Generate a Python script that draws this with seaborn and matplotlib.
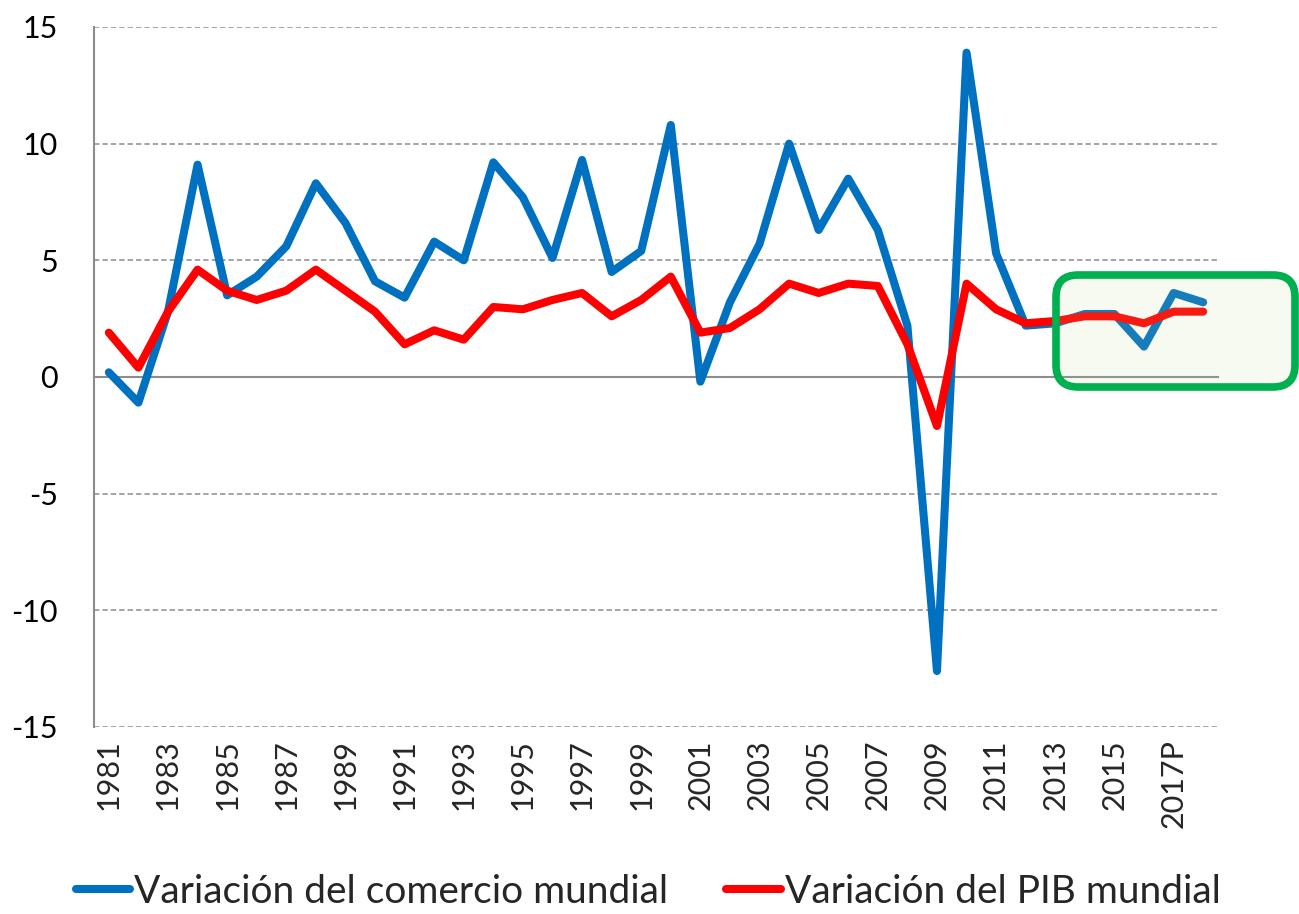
import numpy as np
import pandas as pd
import matplotlib
matplotlib.use("Agg")
import matplotlib.pyplot as plt
from matplotlib.patches import FancyBboxPatch
from matplotlib.lines import Line2D
import seaborn as sns

# --- Data ---
YEARS = [str(y) for y in range(1981, 2017)] + ["2017P", "2018P"]

TRADE = [0.2, -1.1, 2.8, 9.1, 3.5, 4.3, 5.6, 8.3, 6.6, 4.1,
         3.4, 5.8, 5.0, 9.2, 7.7, 5.1, 9.3, 4.5, 5.4, 10.8,
         -0.2, 3.2, 5.7, 10.0, 6.3, 8.5, 6.3, 2.2, -12.6, 13.9,
         5.3, 2.2, 2.3, 2.7, 2.7, 1.3, 3.6, 3.2]

GDP = [1.9, 0.4, 2.8, 4.6, 3.7, 3.3, 3.7, 4.6, 3.7, 2.8,
       1.4, 2.0, 1.6, 3.0, 2.9, 3.3, 3.6, 2.6, 3.3, 4.3,
       1.9, 2.1, 2.9, 4.0, 3.6, 4.0, 3.9, 1.4, -2.1, 4.0,
       2.9, 2.3, 2.4, 2.6, 2.6, 2.3, 2.8, 2.8]

SERIES = ["Variación del comercio mundial", "Variación del PIB mundial"]
COLORS = ["#0070C0", "#FF0000"]
Y_TICKS = [-15, -10, -5, 0, 5, 10, 15]

df = pd.DataFrame({
    "year": YEARS * 2,
    "value": TRADE + GDP,
    "series": [SERIES[0]] * len(YEARS) + [SERIES[1]] * len(YEARS),
})

sns.set_style("white")
plt.rcParams["font.family"] = ["Lato", "DejaVu Sans"]

fig = plt.figure(figsize=(12.99, 9.14), dpi=100)
ax = fig.add_axes([0.0724, 0.2046, 0.8652, 0.7659])

sns.lineplot(data=df, x="year", y="value", hue="series", palette=COLORS,
             sort=False, linewidth=5.8, legend=False, ax=ax,
             solid_capstyle="round", solid_joinstyle="round")

n = len(YEARS)
ax.set_xlim(-0.5, n - 0.5)
ax.set_ylim(-15, 15)
ax.set_xlabel("")
ax.set_ylabel("")

# gridlines (dashed) except at zero
for v in Y_TICKS:
    if v != 0:
        ax.axhline(v, color="#8C8C8C", linestyle=(0, (3.5, 2)), linewidth=1.1, zorder=0)

# spines
for s in ["top", "right"]:
    ax.spines[s].set_visible(False)
ax.spines["left"].set_color("#8C8C8C")
ax.spines["left"].set_linewidth(1.5)
ax.spines["bottom"].set_position(("data", 0))
ax.spines["bottom"].set_color("#8C8C8C")
ax.spines["bottom"].set_linewidth(1.5)
ax.spines["bottom"].set_zorder(0.5)

ax.set_yticks(Y_TICKS)
ax.set_yticklabels([str(v) for v in Y_TICKS])
ax.tick_params(axis="y", length=8, width=1.5, color="#8C8C8C", pad=18,
               labelsize=22, labelcolor="black")

# category boundary ticks on the zero line
ax.set_xticks([])
ax.set_xticks(np.arange(-0.5, n, 1.0), minor=True)
ax.tick_params(axis="x", which="minor", length=8, width=1.5, color="#8C8C8C",
               direction="out")
ax.tick_params(axis="x", which="both", labelbottom=False)

# year labels below the plot area
for i, lab in enumerate(YEARS):
    if i % 2 == 0:
        ax.text(i, -0.018, lab, transform=ax.get_xaxis_transform(),
                rotation=90, ha="center", va="top", fontsize=22)

# highlighted forecast box
box = FancyBboxPatch((1056, 527), 239, 112,
                     boxstyle="round,pad=0,rounding_size=22",
                     transform=None, facecolor=(0.74, 0.84, 0.58, 0.12),
                     edgecolor="#00B050", linewidth=5.5, zorder=10)
fig.patches.append(box)

handles = [Line2D([0], [0], color=c, linewidth=5.8) for c in COLORS]
fig.legend(handles, SERIES, loc="center", bbox_to_anchor=(0.499, 0.024),
           ncol=2, frameon=False, fontsize=28, handlelength=1.4,
           handletextpad=0.1, columnspacing=1.5)

fig.savefig("out.png", dpi=100)
